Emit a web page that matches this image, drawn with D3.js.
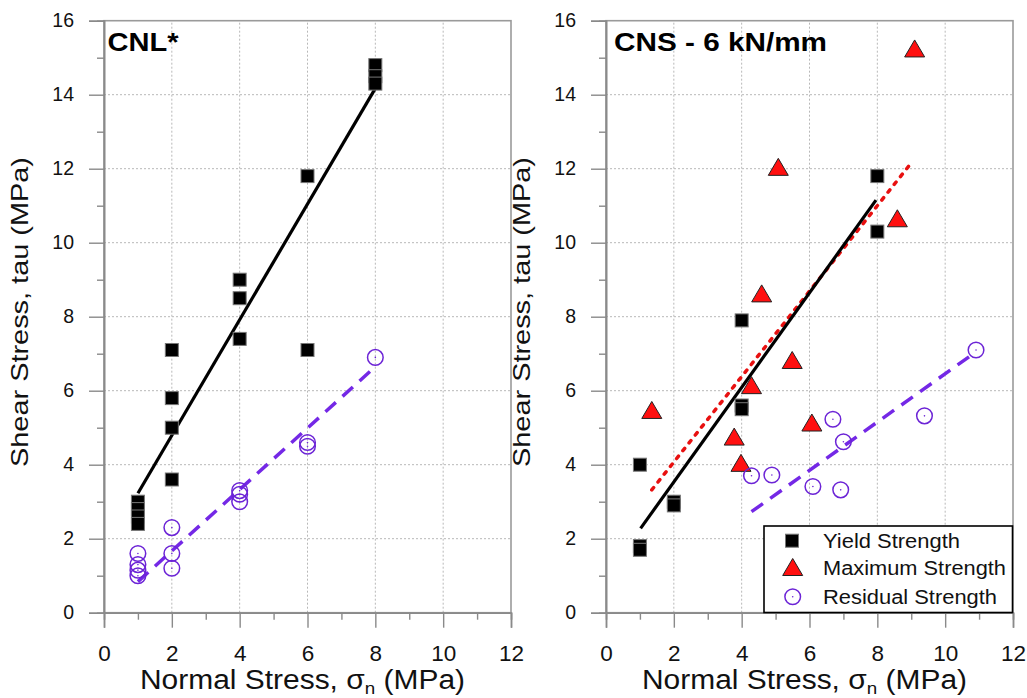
<!DOCTYPE html>
<html>
<head>
<meta charset="utf-8">
<script src="https://cdn.jsdelivr.net/npm/d3@7"></script>
<style>
  html, body { margin: 0; padding: 0; background: #fff; }
  svg { display: block; font-family: "Liberation Sans", Arial, Helvetica, sans-serif; }
</style>
</head>
<body>
<svg id="chart" width="1027" height="698"></svg>
<script>
// ---------------- DATA ----------------
const xTicksMajor = [0, 2, 4, 6, 8, 10, 12];
const xTicksMinor = [1, 3, 5, 7, 9, 11];
const yTicksMajor = [0, 2, 4, 6, 8, 10, 12, 14, 16];
const yTicksMinor = [1, 3, 5, 7, 9, 11, 13, 15];

// Left panel: CNL*
const leftYieldX = [1, 1, 1, 1, 2, 2, 2, 2, 4, 4, 4, 6, 6, 8, 8, 8];
const leftYieldY = [3.0, 2.8, 2.6, 2.4, 7.1, 5.8, 5.0, 3.6, 9.0, 8.5, 7.4, 11.8, 7.1, 14.8, 14.5, 14.3];
const leftResX = [1, 1, 1, 1, 2, 2, 2, 4, 4, 4, 6, 6, 8];
const leftResY = [1.6, 1.3, 1.15, 1.0, 2.3, 1.6, 1.2, 3.3, 3.2, 3.0, 4.6, 4.5, 6.9];
const leftYieldFitX = [1, 8];
const leftYieldFitY = [3.23, 14.17];
const leftResFitX = [1, 8];
const leftResFitY = [0.84, 6.65];

// Right panel: CNS - 6 kN/mm
const rightYieldX = [1, 1, 1, 2, 2, 4, 4, 4, 8, 8];
const rightYieldY = [4.0, 1.8, 1.7, 3.0, 2.9, 7.9, 5.6, 5.5, 11.8, 10.3];
const rightMaxX = [9.1, 5.08, 8.59, 4.59, 5.49, 4.29, 1.35, 6.07, 3.78, 3.98];
const rightMaxY = [15.25, 12.05, 10.66, 8.63, 6.83, 6.15, 5.48, 5.14, 4.76, 4.05];
const rightResX = [10.91, 6.69, 9.39, 7.0, 4.29, 4.89, 6.1, 6.92];
const rightResY = [7.1, 5.23, 5.32, 4.62, 3.70, 3.72, 3.41, 3.32];
const rightYieldFitX = [1.02, 7.96];
const rightYieldFitY = [2.28, 11.15];
const rightMaxFitX = [1.35, 9.03];
const rightMaxFitY = [3.32, 12.19];
const rightResFitX = [4.29, 10.74];
const rightResFitY = [2.73, 6.94];

const panelTitles = ["CNL*", "CNS - 6 kN/mm"];
const legendLabels = ["Yield Strength", "Maximum Strength", "Residual Strength"];
const xLabelMain = "Normal Stress, ";
const yLabel = "Shear Stress, tau (MPa)";

// ---------------- STYLE ----------------
const purple = "#6c24d6";
const purpleLine = "#7428e6";
const red = "#ff1010";
const frameColor = "#9a9a9a";
const axisColor = "#8a8a8a";
const gridColor = "#b8b8b8";

const svg = d3.select("#chart");
const yTop = 20.7, yBottom = 612.7;

function zip(xs, ys) { return xs.map((x, i) => ({ x: x, y: ys[i] })); }

const triPath = "M0,-8.5L10,8.5L-10,8.5Z";

function drawPanel(cfg) {
  const x = d3.scaleLinear().domain([0, 12]).range([cfg.x0, cfg.x1]);
  const y = d3.scaleLinear().domain([0, 16]).range([yBottom, yTop]);
  const g = svg.append("g");

  // grid
  g.append("g").selectAll("line.vg").data(xTicksMajor.filter(v => v > 0 && v < 12)).join("line")
    .attr("x1", d => x(d)).attr("x2", d => x(d)).attr("y1", y(0)).attr("y2", y(16))
    .attr("stroke", gridColor).attr("stroke-width", 1).attr("stroke-dasharray", "2,2");
  g.append("g").selectAll("line.hg").data(yTicksMajor.filter(v => v > 0 && v < 16)).join("line")
    .attr("y1", d => y(d)).attr("y2", d => y(d)).attr("x1", x(0)).attr("x2", x(12))
    .attr("stroke", gridColor).attr("stroke-width", 1).attr("stroke-dasharray", "2,2");

  // frame
  g.append("rect").attr("x", x(0)).attr("y", y(16)).attr("width", x(12) - x(0)).attr("height", y(0) - y(16))
    .attr("fill", "none").attr("stroke", frameColor).attr("stroke-width", 1.6);

  // axes
  const axL = g.append("g").attr("transform", `translate(${x(0)},0)`)
    .call(d3.axisLeft(y).tickValues(yTicksMajor).tickSize(15).tickPadding(15).tickFormat(d3.format("d")));
  const axLm = g.append("g").attr("transform", `translate(${x(0)},0)`)
    .call(d3.axisLeft(y).tickValues(yTicksMinor).tickSize(7).tickFormat(""));
  const axB = g.append("g").attr("transform", `translate(0,${y(0)})`)
    .call(d3.axisBottom(x).tickValues(xTicksMajor).tickSize(15).tickFormat(d3.format("d")));
  const axBm = g.append("g").attr("transform", `translate(0,${y(0)})`)
    .call(d3.axisBottom(x).tickValues(xTicksMinor).tickSize(7).tickFormat(""));
  [axL, axLm, axB, axBm].forEach(a => {
    a.select(".domain").attr("stroke", axisColor).attr("stroke-width", 1.6);
    a.selectAll(".tick line").attr("stroke", axisColor).attr("stroke-width", 1.4);
  });
  axL.selectAll(".tick text").attr("font-size", 19.5).attr("fill", "#111")
    .style("font-family", '"Liberation Sans", Arial, sans-serif');
  axB.selectAll(".tick text").attr("font-size", 22.5).attr("fill", "#111").attr("y", 48).attr("dy", 0)
    .style("font-family", '"Liberation Sans", Arial, sans-serif');

  // axis labels
  const xl = g.append("text").attr("x", (x(0) + x(12)) / 2 - 5).attr("y", 689)
    .attr("text-anchor", "middle").attr("font-size", 27).attr("fill", "#111")
    .attr("textLength", 325).attr("lengthAdjust", "spacingAndGlyphs");
  xl.append("tspan").text(xLabelMain + "σ");
  xl.append("tspan").attr("font-size", 17).attr("dy", 5).text("n");
  xl.append("tspan").attr("dy", -5).text(" (MPa)");

  g.append("text").attr("transform", `translate(${x(0) - 76},312) rotate(-90)`)
    .attr("text-anchor", "middle").attr("font-size", 24).attr("fill", "#111")
    .attr("textLength", 310).attr("lengthAdjust", "spacingAndGlyphs").text(yLabel);

  // title
  g.append("text").attr("x", x(0) + cfg.titleDx).attr("y", 50.7).attr("font-size", 26.5).attr("font-weight", "bold")
    .attr("fill", "#000").attr("textLength", cfg.titleLen).attr("lengthAdjust", "spacingAndGlyphs").text(cfg.title);

  // fit lines
  const line = d3.line().x(d => x(d.x)).y(d => y(d.y));
  cfg.fits.forEach(f => {
    g.append("path").datum(zip(f.xs, f.ys)).attr("d", line).attr("fill", "none")
      .attr("stroke", f.color).attr("stroke-width", f.width)
      .attr("stroke-dasharray", f.dash || null).attr("stroke-linecap", f.cap || "butt");
  });

  // markers
  if (cfg.yield) {
    g.append("g").selectAll("rect").data(zip(cfg.yield[0], cfg.yield[1])).join("rect")
      .attr("x", d => x(d.x) - 6.5).attr("y", d => y(d.y) - 6.5).attr("width", 13).attr("height", 13)
      .attr("fill", "#000").attr("stroke", "#777").attr("stroke-width", 1);
  }
  if (cfg.max) {
    g.append("g").selectAll("path").data(zip(cfg.max[0], cfg.max[1])).join("path")
      .attr("d", triPath).attr("transform", d => `translate(${x(d.x)},${y(d.y)})`)
      .attr("fill", red).attr("stroke", "#222").attr("stroke-width", 1);
  }
  if (cfg.res) {
    const rg = g.append("g").selectAll("g").data(zip(cfg.res[0], cfg.res[1])).join("g")
      .attr("transform", d => `translate(${x(d.x)},${y(d.y)})`);
    rg.append("circle").attr("r", 7.8).attr("fill", "none").attr("stroke", purple).attr("stroke-width", 1.5);
    rg.append("circle").attr("r", 0.8).attr("fill", purple);
  }
  return { x, y, g };
}

drawPanel({
  x0: 104, x1: 511, title: panelTitles[0], titleDx: 3.5, titleLen: 71,
  yield: [leftYieldX, leftYieldY], res: [leftResX, leftResY],
  fits: [
    { xs: leftYieldFitX, ys: leftYieldFitY, color: "#000", width: 3.2 },
    { xs: leftResFitX, ys: leftResFitY, color: purpleLine, width: 3.5, dash: "14,9" }
  ]
});

drawPanel({
  x0: 606, x1: 1013, title: panelTitles[1], titleDx: 8, titleLen: 213,
  yield: [rightYieldX, rightYieldY], max: [rightMaxX, rightMaxY], res: [rightResX, rightResY],
  fits: [
    { xs: rightMaxFitX, ys: rightMaxFitY, color: "#e81010", width: 3.5, dash: "3,7", cap: "round" },
    { xs: rightYieldFitX, ys: rightYieldFitY, color: "#000", width: 3.2 },
    { xs: rightResFitX, ys: rightResFitY, color: purpleLine, width: 3.5, dash: "14,9" }
  ]
});

// legend
const lg = svg.append("g");
lg.append("rect").attr("x", 764).attr("y", 526).attr("width", 248.5).attr("height", 86.5)
  .attr("fill", "#fff").attr("stroke", "#000").attr("stroke-width", 1.6);
const legY = [540.7, 567, 596.7];
const legLen = [137, 183, 174];
lg.append("rect").attr("x", 792 - 6.5).attr("y", legY[0] - 6.5).attr("width", 13).attr("height", 13)
  .attr("fill", "#000").attr("stroke", "#777").attr("stroke-width", 1);
lg.append("path").attr("d", triPath).attr("transform", `translate(792.7,${legY[1]})`)
  .attr("fill", red).attr("stroke", "#222").attr("stroke-width", 1);
lg.append("circle").attr("cx", 792.7).attr("cy", legY[2]).attr("r", 7.8).attr("fill", "none")
  .attr("stroke", purple).attr("stroke-width", 1.5);
lg.append("circle").attr("cx", 792.7).attr("cy", legY[2]).attr("r", 0.8).attr("fill", purple);
legendLabels.forEach((t, i) => {
  lg.append("text").attr("x", 823).attr("y", legY[i] + 7.5).attr("font-size", 20).attr("fill", "#111")
    .attr("textLength", legLen[i]).attr("lengthAdjust", "spacingAndGlyphs").text(t);
});
</script>
</body>
</html>
